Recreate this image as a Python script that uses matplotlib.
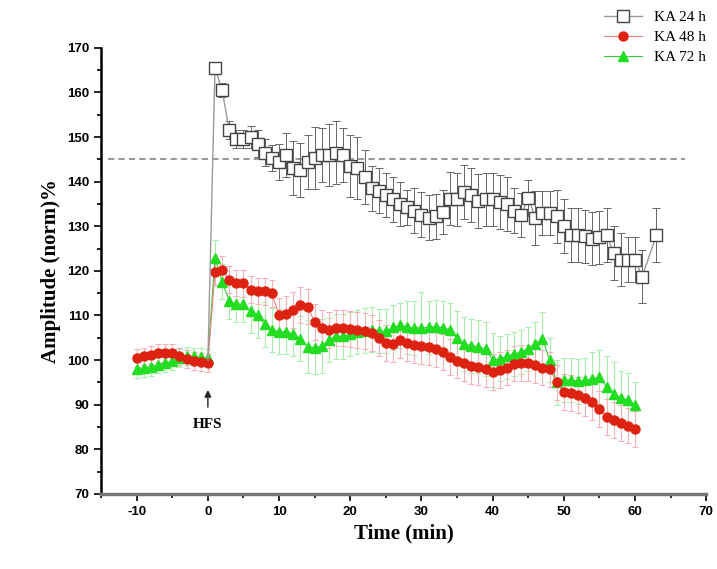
import numpy as np
import matplotlib.pyplot as plt

plt.rcParams['axes.unicode_minus'] = False

# KA 24 h (el primer punto es la línea base en t=0, sin marcador)
t24 = [0, 1, 2, 3, 4, 5, 6, 7, 8, 9, 10, 11, 12, 13, 14, 15, 16, 17, 18, 19, 20,
       21, 22, 23, 24, 25, 26, 27, 28, 29, 30, 31, 32, 33, 34, 35, 36, 37, 38, 39, 40,
       41, 42, 43, 44, 45, 46, 47, 48, 49, 50, 51, 52, 53, 54, 55, 56, 57, 58, 59, 60,
       61, 63]
ka24 = [100, 165.5, 160.5, 151.5, 149.5, 149.5, 150, 148.5, 146.5, 145.3, 144.4,
        146, 143, 142.6, 144.4, 145.3, 146, 146, 146.5, 146, 143.5,
        143, 141, 138.5, 138, 137, 136, 135, 134.2, 133.5, 132.6,
        131.9, 132.2, 133.2, 136.2, 136, 137.7, 137, 135.6, 136, 136,
        135.4, 135, 133.5, 132.5, 136.4, 131.9, 133, 133, 132.2, 130,
        128, 128, 127.7, 127.2, 127.5, 128, 124, 122.5, 122.5, 122.5,
        118.7, 128]
err24 = [0, 1, 1.5, 2, 2, 2, 2.5, 3, 3, 3, 4,
         5, 6, 6, 6, 7, 6, 7, 7, 6, 7,
         7, 6, 5, 5, 5, 5, 5, 4, 5, 5,
         5, 5, 5, 6, 6, 6, 6, 6, 6, 6,
         6, 6, 5, 5, 4, 6, 5, 5, 6, 6,
         6, 6, 6, 6, 6, 6, 6, 6, 5, 5,
         6, 6]

# KA 48 h y KA 72 h
t = [-10, -9, -8, -7, -6, -5, -4, -3, -2, -1, 0,
     1, 2, 3, 4, 5, 6, 7, 8, 9, 10, 11, 12, 13, 14, 15, 16, 17, 18, 19, 20,
     21, 22, 23, 24, 25, 26, 27, 28, 29, 30, 31, 32, 33, 34, 35, 36, 37, 38, 39, 40,
     41, 42, 43, 44, 45, 46, 47, 48, 49, 50, 51, 52, 53, 54, 55, 56, 57, 58, 59, 60]
ka48 = [100.5, 100.8, 101.2, 101.5, 101.5, 101.5, 100.8, 100.3, 99.8, 99.6, 99.4,
        119.8, 120.3, 118, 117.3, 117.2, 115.8, 115.5, 115.4, 115.0, 110.0,
        110.3, 111.2, 112.4, 112, 108.5, 107.2, 106.8, 107.2, 107.2, 107,
        106.8, 106.5, 106.1, 105, 103.9, 103.5, 104.4, 103.8, 103.4, 103.1,
        102.9, 102.5, 101.8, 100.7, 99.9, 99.3, 98.6, 98.5, 98, 97.4,
        97.7, 98.3, 99.2, 99.4, 99.4, 98.8, 98.3, 97.9, 95, 92.8,
        92.6, 92.2, 91.5, 90.6, 89, 87.3, 86.6, 85.9, 85.3, 84.5]
err48 = [2, 2, 2, 2, 2, 2, 2, 2, 2, 2, 2,
         3, 3, 3, 3, 3, 3, 3, 3, 3, 4,
         4, 4, 4, 4, 4, 4, 4, 4, 4, 4,
         4, 4, 4, 4, 4, 4, 4, 4, 4, 4,
         4, 4, 4, 4, 4, 4, 4, 4, 4, 4,
         4, 4, 4, 4, 4, 4, 4, 4, 4, 4,
         4, 4, 4, 4, 4, 4, 4, 4, 4, 4]
ka72 = [98, 98.3, 98.5, 99, 99.3, 99.7, 100.5, 101, 100.8, 100.6, 100.5,
        122.9, 117.6, 113.2, 112.6, 112.5, 111, 110, 108, 106.7, 106.4,
        106.3, 105.8, 104.8, 103, 102.8, 103.1, 104.5, 105.3, 105.3, 105.8,
        106.3, 106.6, 106.8, 106.5, 106.5, 107.3, 107.8, 107.3, 107.2, 107.2,
        107.3, 107.5, 107.2, 106.8, 105, 103.6, 103.2, 103, 102.5, 100,
        100.3, 100.8, 101.4, 101.8, 102.5, 103.5, 104.8, 100, 95, 95.5,
        95.5, 95.2, 95.5, 95.7, 96.2, 94, 92.5, 91.5, 91, 90]
err72 = [2, 2, 2, 2, 2, 2, 2, 2, 2, 2, 2,
         4, 4, 4, 4, 4, 5, 5, 5, 5, 5,
         5, 5, 5, 6, 6, 6, 5, 5, 5, 5,
         5, 5, 5, 5, 5, 5, 5, 6, 6, 8,
         6, 6, 6, 6, 6, 6, 6, 6, 6, 6,
         5, 5, 5, 5, 5, 5, 6, 5, 5, 5,
         5, 5, 5, 6, 6, 7, 7, 6, 6, 5]

umbral = 145

serif = ['Liberation Serif', 'DejaVu Serif']
sans = ['Liberation Sans', 'DejaVu Sans']

fig = plt.figure(figsize=(7.17, 5.69), dpi=100)
ax = fig.add_axes([0.141, 0.132, 0.844, 0.784])

# línea de referencia
ax.hlines(umbral, -14, 67, colors='#999999', linestyles=(0, (3, 2)), linewidth=1.5, zorder=1)

# KA 72 h
ax.errorbar(t, ka72, yerr=err72, fmt='none', ecolor='#a8f0a8', elinewidth=0.8,
            capsize=2, capthick=0.8, zorder=2)
l72, = ax.plot(t, ka72, '-', color='#33cc33', linewidth=0.8, marker='^',
               markersize=6.5, markerfacecolor='#22dd22', markeredgecolor='#22dd22',
               label='KA 72 h', zorder=3)

# KA 48 h
ax.errorbar(t, ka48, yerr=err48, fmt='none', ecolor='#f5b0b8', elinewidth=0.8,
            capsize=2, capthick=0.8, zorder=2)
l48, = ax.plot(t, ka48, '-', color='#e88080', linewidth=0.8, marker='o',
               markersize=6.5, markerfacecolor='#dd2211', markeredgecolor='#dd2211',
               label='KA 48 h', zorder=4)

# KA 24 h
ax.errorbar(t24[1:], ka24[1:], yerr=err24[1:], fmt='none', ecolor='#666666',
            elinewidth=0.7, capsize=3, capthick=0.7, zorder=5)
l24, = ax.plot(t24, ka24, '-', color='#999999', linewidth=1.0, marker='s',
               markersize=8, markerfacecolor='white', markeredgecolor='#444444',
               markeredgewidth=1.0, markevery=list(range(1, len(t24))),
               label='KA 24 h', zorder=6)

# flecha HFS
ax.annotate('HFS', xy=(0, 93.3), xytext=(0, 85.5), ha='center', va='center',
            fontsize=11, fontweight='bold', family=serif,
            arrowprops=dict(arrowstyle='-|>', color='#222222', lw=1.0,
                            shrinkA=6, shrinkB=0, mutation_scale=10))

ax.set_xlim(-15, 70)
ax.set_ylim(70, 170)
ax.set_xticks(np.arange(-10, 71, 10))
ax.set_xticks(np.arange(-15, 71, 5), minor=True)
ax.set_yticks(np.arange(70, 171, 10))
ax.set_yticks(np.arange(70, 171, 5), minor=True)
ax.tick_params(which='both', direction='out', width=1.2)
ax.tick_params(which='major', length=5)
ax.tick_params(which='minor', length=3)
for lab in ax.get_xticklabels() + ax.get_yticklabels():
    lab.set_family(sans)
    lab.set_fontweight('bold')
    lab.set_fontsize(9.5)

ax.spines['top'].set_visible(False)
ax.spines['right'].set_visible(False)
ax.spines['left'].set_linewidth(1.8)
ax.spines['bottom'].set_linewidth(2.5)
ax.spines['bottom'].set_color('#777777')

ax.set_xlabel('Time (min)', fontsize=15, fontweight='bold', family=serif)
ax.set_ylabel('Amplitude (norm)%', fontsize=15, fontweight='bold', family=serif)

fig.legend(handles=[l24, l48, l72], loc='upper right', bbox_to_anchor=(1.0, 1.0),
           frameon=False, prop={'family': serif, 'size': 11}, handlelength=2.5,
           labelspacing=0.4, borderaxespad=0.3)

fig.savefig('out.png', dpi=100)
